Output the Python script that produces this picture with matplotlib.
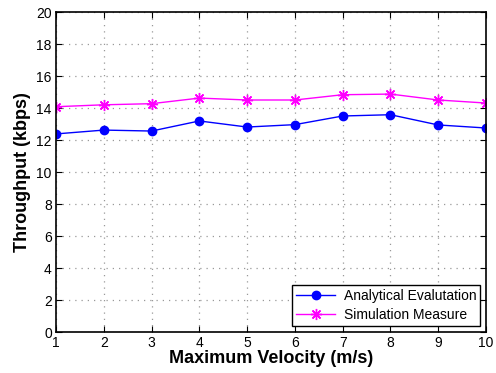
import numpy as np
import matplotlib.pyplot as plt

plt.rcParams['font.family'] = ['Liberation Sans', 'DejaVu Sans']

velocity = [1, 2, 3, 4, 5, 6, 7, 8, 9, 10]
analytical = [12.38, 12.62, 12.56, 13.19, 12.81, 12.96, 13.5, 13.58, 12.94, 12.75]
simulation = [14.08, 14.2, 14.27, 14.62, 14.5, 14.5, 14.83, 14.87, 14.5, 14.31]
yticks = np.arange(0, 21, 2)

fig = plt.figure(figsize=(4.96, 3.73), dpi=100)
ax = fig.add_axes([56 / 496, 1 - 332 / 373, 430 / 496, 320 / 373])

ax.plot(velocity, analytical, color='blue', marker='o', markersize=6,
        linewidth=1, label='Analytical Evalutation')
ax.plot(velocity, simulation, color='magenta', marker=(8, 2, 0), markersize=8,
        markeredgewidth=1, linewidth=1, label='Simulation Measure')

ax.set_xlim(1, 10)
ax.set_ylim(0, 20)
ax.set_xticks(velocity)
ax.set_yticks(yticks)
ax.tick_params(direction='in', top=True, right=True, labelsize=10, length=4, pad=3)
ax.grid(True, linestyle=(0, (1, 4)), color='#999999', linewidth=0.9)
for s in ax.spines.values():
    s.set_linewidth(1.2)

ax.set_xlabel('Maximum Velocity (m/s)', fontsize=13, fontweight='bold', labelpad=0)
ax.set_ylabel('Throughput (kbps)', fontsize=13, fontweight='bold', labelpad=4)

leg = ax.legend(loc='lower right', fontsize=10, fancybox=False, framealpha=1,
                edgecolor='black', borderpad=0.3, handlelength=2.8,
                labelspacing=0.4, borderaxespad=0.4, handletextpad=0.6)
leg.get_frame().set_linewidth(1.0)

fig.savefig('out.png', dpi=100)
